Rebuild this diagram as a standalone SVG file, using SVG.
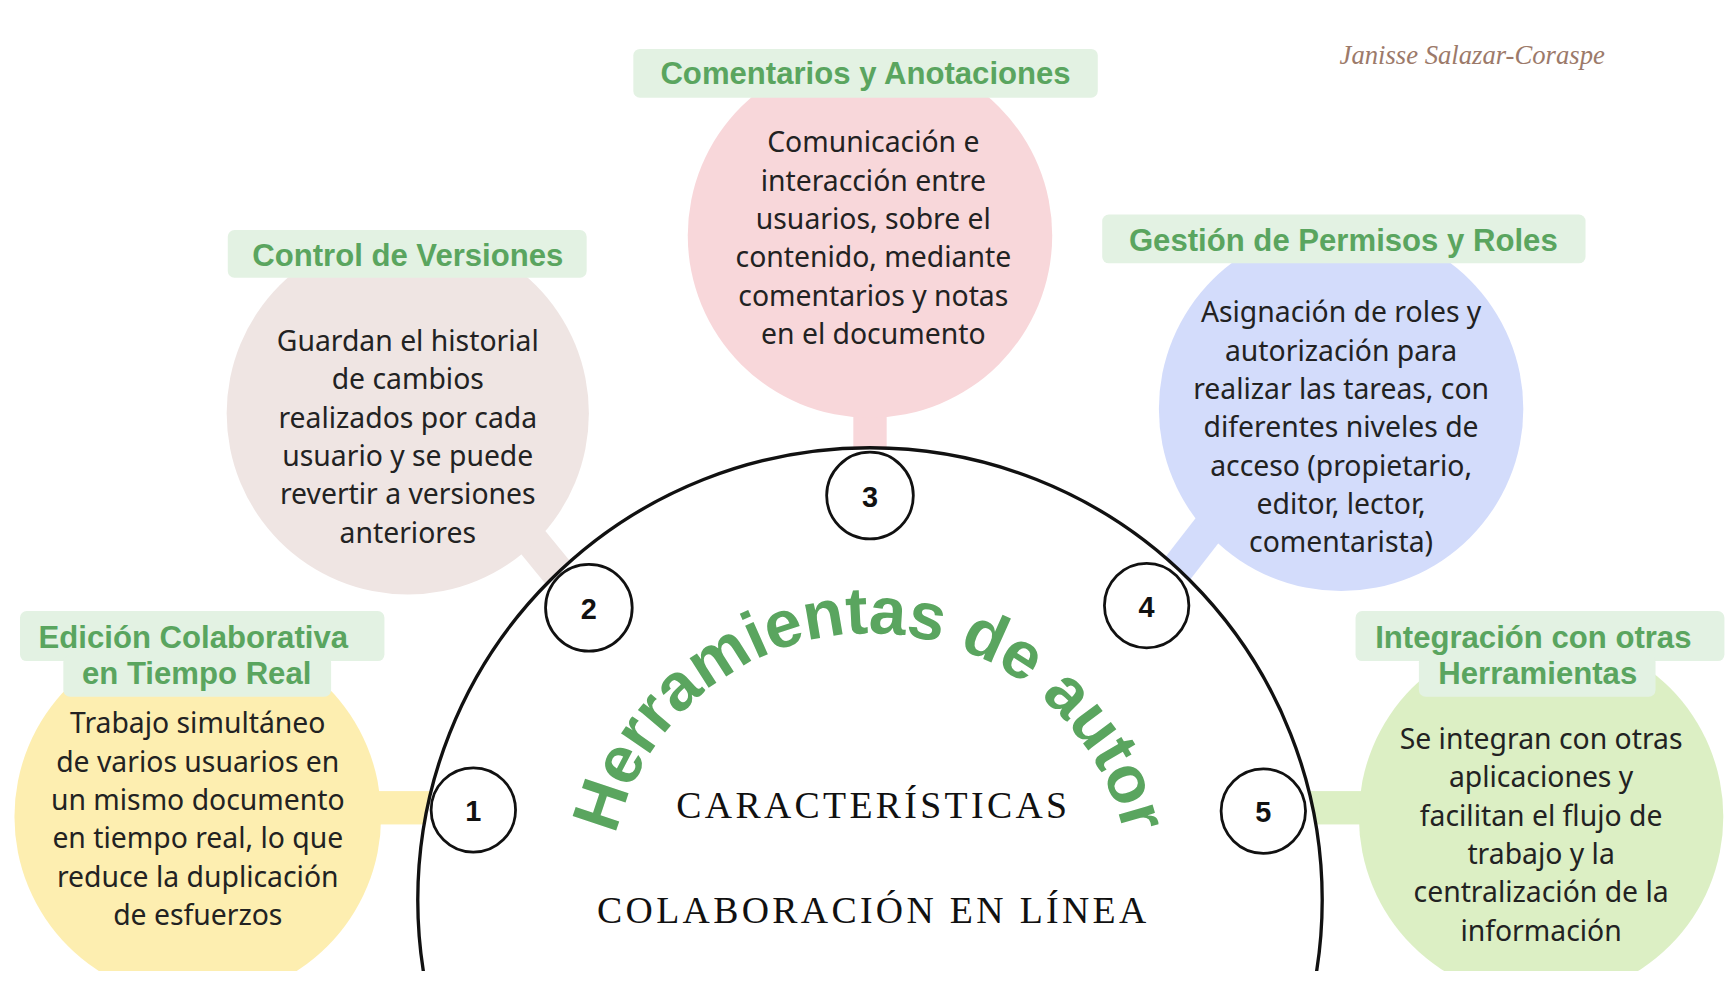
<svg xmlns="http://www.w3.org/2000/svg" width="1734" height="998" viewBox="0 0 1734 998">
<style>
.t{font-family:"Liberation Sans",Arial,sans-serif;font-weight:bold;font-size:28px;fill:#5aa55f;text-anchor:middle}
.b{font-family:"Noto Sans","Open Sans",sans-serif;font-size:25.5px;fill:#222;text-anchor:middle}
.lbl{fill:#e3f2e3}
.num{fill:#fff;stroke:#111;stroke-width:2.5}
.n{font-family:"Liberation Sans",Arial,sans-serif;font-weight:bold;font-size:26px;fill:#111;text-anchor:middle}
.s{font-family:"Liberation Serif","DejaVu Serif",serif;fill:#111;text-anchor:middle;letter-spacing:3px}
</style>
<rect width="1734" height="998" fill="#fff"/>
<g transform="scale(1.1111)">
<defs><clipPath id="c"><rect x="0" y="0" width="1560" height="874"/></clipPath>
<path id="arc" d="M 548,805 A 235 235 0 0 1 1018,805"/></defs>
<g id="connectors">
<rect x="330" y="712" width="60" height="30" fill="#fdeeb0"/>
<rect x="768" y="360" width="30" height="48" fill="#f8d7da"/>
<line x1="465" y1="470" x2="510" y2="525" stroke="#efe5e3" stroke-width="30"/>
<line x1="1100" y1="460" x2="1055" y2="518" stroke="#d3dcfb" stroke-width="30"/>
<rect x="1175" y="712" width="60" height="30" fill="#dcefc4"/>
</g>
<g clip-path="url(#c)">
<circle cx="783" cy="810" r="407" fill="#fff" stroke="#111" stroke-width="3"/>
</g>
<g id="n1" clip-path="url(#c)">
<circle cx="178" cy="735" r="165" fill="#fdeeb0"/>
<rect class="lbl" x="18" y="550" width="328" height="45" rx="6"/>
<rect class="lbl" x="57" y="590" width="241" height="37" rx="6"/>
<text class="t" x="174" y="583">Edición Colaborativa</text>
<text class="t" x="177" y="616">en Tiempo Real</text>
<text class="b" x="178" y="660">Trabajo simultáneo<tspan x="178" dy="34.5">de varios usuarios en</tspan><tspan x="178" dy="34.5">un mismo documento</tspan><tspan x="178" dy="34.5">en tiempo real, lo que</tspan><tspan x="178" dy="34.5">reduce la duplicación</tspan><tspan x="178" dy="34.5">de esfuerzos</tspan></text>
</g>
<g id="n2">
<circle cx="367" cy="372" r="163" fill="#efe5e3"/>
<rect class="lbl" x="205" y="207" width="323" height="43" rx="6"/>
<text class="t" x="367" y="239">Control de Versiones</text>
<text class="b" x="367" y="316">Guardan el historial<tspan x="367" dy="34.5">de cambios</tspan><tspan x="367" dy="34.5">realizados por cada</tspan><tspan x="367" dy="34.5">usuario y se puede</tspan><tspan x="367" dy="34.5">revertir a versiones</tspan><tspan x="367" dy="34.5">anteriores</tspan></text>
</g>
<g id="n3">
<circle cx="783" cy="212" r="164" fill="#f8d7da"/>
<rect class="lbl" x="570" y="44" width="418" height="44" rx="6"/>
<text class="t" x="779" y="76">Comentarios y Anotaciones</text>
<text class="b" x="786" y="137">Comunicación e<tspan x="786" dy="34.5">interacción entre</tspan><tspan x="786" dy="34.5">usuarios, sobre el</tspan><tspan x="786" dy="34.5">contenido, mediante</tspan><tspan x="786" dy="34.5">comentarios y notas</tspan><tspan x="786" dy="34.5">en el documento</tspan></text>
</g>
<g id="n4">
<circle cx="1207" cy="368" r="164" fill="#d3dcfb"/>
<rect class="lbl" x="992" y="193" width="435" height="44" rx="6"/>
<text class="t" x="1209" y="226">Gestión de Permisos y Roles</text>
<text class="b" x="1207" y="290">Asignación de roles y<tspan x="1207" dy="34.5">autorización para</tspan><tspan x="1207" dy="34.5">realizar las tareas, con</tspan><tspan x="1207" dy="34.5">diferentes niveles de</tspan><tspan x="1207" dy="34.5">acceso (propietario,</tspan><tspan x="1207" dy="34.5">editor, lector,</tspan><tspan x="1207" dy="34.5">comentarista)</tspan></text>
</g>
<g id="n5" clip-path="url(#c)">
<circle cx="1387" cy="735" r="164" fill="#dcefc4"/>
<rect class="lbl" x="1220" y="550" width="332" height="45" rx="6"/>
<rect class="lbl" x="1277" y="590" width="213" height="37" rx="6"/>
<text class="t" x="1380" y="583">Integración con otras</text>
<text class="t" x="1384" y="616">Herramientas</text>
<text class="b" x="1387" y="674">Se integran con otras<tspan x="1387" dy="34.5">aplicaciones y</tspan><tspan x="1387" dy="34.5">facilitan el flujo de</tspan><tspan x="1387" dy="34.5">trabajo y la</tspan><tspan x="1387" dy="34.5">centralización de la</tspan><tspan x="1387" dy="34.5">información</tspan></text>
</g>
<g id="numbers">
<circle class="num" cx="426" cy="729" r="38"/><text class="n" x="426" y="739">1</text>
<circle class="num" cx="530" cy="547" r="39"/><text class="n" x="530" y="557">2</text>
<circle class="num" cx="783" cy="446" r="39"/><text class="n" x="783" y="456">3</text>
<circle class="num" cx="1032" cy="545" r="38"/><text class="n" x="1032" y="555">4</text>
<circle class="num" cx="1137" cy="730" r="38"/><text class="n" x="1137" y="740">5</text>
</g>
<g id="center">
<text font-family="Liberation Sans,Arial,sans-serif" font-weight="bold" font-size="60" fill="#5aa55f" text-anchor="middle"><textPath href="#arc" startOffset="50%" textLength="630" lengthAdjust="spacing">Herramientas de autor</textPath></text>
<text class="s" x="786" y="736" font-size="34">CARACTERÍSTICAS</text>
<text class="s" x="786" y="831" font-size="34">COLABORACIÓN EN LÍNEA</text>
</g>
<text x="1325" y="58" font-family="Liberation Serif,serif" font-style="italic" font-size="24" fill="#9c7a6a" text-anchor="middle">Janisse Salazar-Coraspe</text>
</g>
</svg>
